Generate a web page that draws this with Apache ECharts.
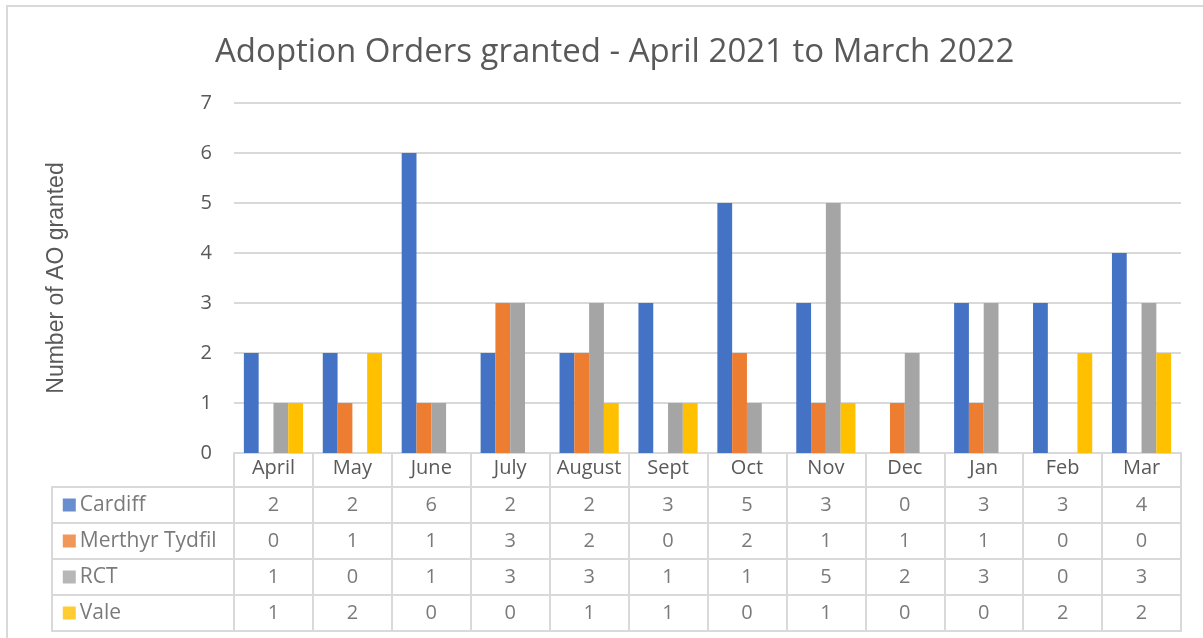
<!DOCTYPE html>
<html>
<head>
<meta charset="utf-8">
<title>Adoption Orders granted</title>
<script src="https://cdn.jsdelivr.net/npm/echarts@6/dist/echarts.min.js"></script>
<style>
  html, body { margin: 0; padding: 0; background: #fff; }
  #charts { width: 1203px; height: 638px; }
</style>
</head>
<body>
<div id="charts"></div>
<script>
var months = ['April', 'May', 'June', 'July', 'August', 'Sept', 'Oct', 'Nov', 'Dec', 'Jan', 'Feb', 'Mar'];
var seriesNames = ['Cardiff', 'Merthyr Tydfil', 'RCT', 'Vale'];
var cardiff = [2, 2, 6, 2, 2, 3, 5, 3, 0, 3, 3, 4];
var merthyr = [0, 1, 1, 3, 2, 0, 2, 1, 1, 1, 0, 0];
var rct = [1, 0, 1, 3, 3, 1, 1, 5, 2, 3, 0, 3];
var vale = [1, 2, 0, 0, 1, 1, 0, 1, 0, 0, 2, 2];
var yTicks = [0, 1, 2, 3, 4, 5, 6, 7];

var colors = ['#4472C4', '#ED7D31', '#A5A5A5', '#FFC000'];
var allValues = [cardiff, merthyr, rct, vale];
var textColor = '#595959';
var lineColor = '#d9d9d9';
var font = '"Open Sans", "Noto Sans", sans-serif';

var myChart = echarts.init(document.getElementById('charts'));

// bars
var barSeries = seriesNames.map(function (name, i) {
    return {
        name: name,
        type: 'bar',
        xAxisIndex: 0,
        yAxisIndex: 0,
        data: allValues[i],
        barGap: 0,
        barCategoryGap: '25%',
        itemStyle: { color: colors[i] }
    };
});

// values of the data table
var cellData = [];
seriesNames.forEach(function (name, s) {
    months.forEach(function (m, k) {
        cellData.push([m, name, allValues[s][k]]);
    });
});

// legend keys in the first column of the table
var keyData = seriesNames.map(function (name, s) {
    return { value: [0.095, name], itemStyle: { color: colors[s] } };
});

var option = {
    animation: false,
    textStyle: { fontFamily: font },
    title: {
        text: 'Adoption Orders granted - April 2021 to March 2022',
        left: 210,
        top: 31,
        textStyle: { fontFamily: font, fontSize: 33, fontWeight: 'normal', color: textColor }
    },
    graphic: [{
        type: 'rect',
        shape: { x: 7, y: 6, width: 1230, height: 660 },
        style: { fill: 'none', stroke: lineColor, lineWidth: 2 },
        silent: true
    }],
    grid: [
        { left: 234, right: 22, top: 103, height: 350 },
        { left: 234, right: 22, top: 487, height: 144, show: true, borderColor: lineColor, borderWidth: 2 },
        { left: 52, width: 182, top: 487, height: 144, show: true, borderColor: lineColor, borderWidth: 2 }
    ],
    xAxis: [
        {
            gridIndex: 0,
            type: 'category',
            data: months,
            axisLine: { lineStyle: { color: lineColor, width: 2 } },
            axisTick: { show: true, interval: 0, length: 34, lineStyle: { color: lineColor, width: 2 } },
            axisLabel: { interval: 0, margin: 5, color: textColor, fontSize: 20, fontFamily: font }
        },
        {
            gridIndex: 1,
            type: 'category',
            data: months,
            axisLine: { show: false },
            axisTick: { show: false },
            axisLabel: { show: false },
            splitLine: { show: true, interval: 0, lineStyle: { color: lineColor, width: 2 } }
        },
        {
            gridIndex: 2,
            type: 'value',
            min: 0,
            max: 1,
            show: false
        }
    ],
    yAxis: [
        {
            gridIndex: 0,
            type: 'value',
            min: yTicks[0],
            max: yTicks[yTicks.length - 1],
            interval: 1,
            axisLine: { show: false },
            axisTick: { show: false },
            axisLabel: { margin: 22, color: textColor, fontSize: 20, fontFamily: font },
            splitLine: { lineStyle: { color: lineColor, width: 2 } },
            name: 'Number of AO granted',
            nameLocation: 'middle',
            nameGap: 166,
            nameRotate: 90,
            nameTextStyle: { color: textColor, fontSize: 23, fontFamily: '"Liberation Sans", Arial, sans-serif' }
        },
        {
            gridIndex: 1,
            type: 'category',
            data: seriesNames,
            inverse: true,
            axisLine: { show: false },
            axisTick: { show: false },
            axisLabel: { show: false },
            splitLine: { show: true, interval: 0, lineStyle: { color: lineColor, width: 2 } }
        },
        {
            gridIndex: 2,
            type: 'category',
            data: seriesNames,
            inverse: true,
            axisLine: { show: false },
            axisTick: { show: false },
            axisLabel: { show: false },
            splitLine: { show: true, interval: 0, lineStyle: { color: lineColor, width: 2 } }
        }
    ],
    series: barSeries.concat([
        {
            type: 'scatter',
            xAxisIndex: 1,
            yAxisIndex: 1,
            data: cellData,
            symbolSize: 1,
            itemStyle: { color: 'rgba(0,0,0,0)' },
            label: {
                show: true,
                position: 'inside',
                color: textColor,
                fontSize: 20,
                fontFamily: font,
                formatter: function (p) { return p.value[2]; }
            },
            silent: true
        },
        {
            type: 'scatter',
            xAxisIndex: 2,
            yAxisIndex: 2,
            data: keyData,
            symbol: 'rect',
            symbolSize: 13,
            label: {
                show: true,
                position: 'right',
                distance: 4,
                color: textColor,
                fontSize: 21,
                fontFamily: font,
                formatter: function (p) { return p.value[1]; }
            },
            silent: true
        }
    ])
};

myChart.setOption(option);
</script>
</body>
</html>
